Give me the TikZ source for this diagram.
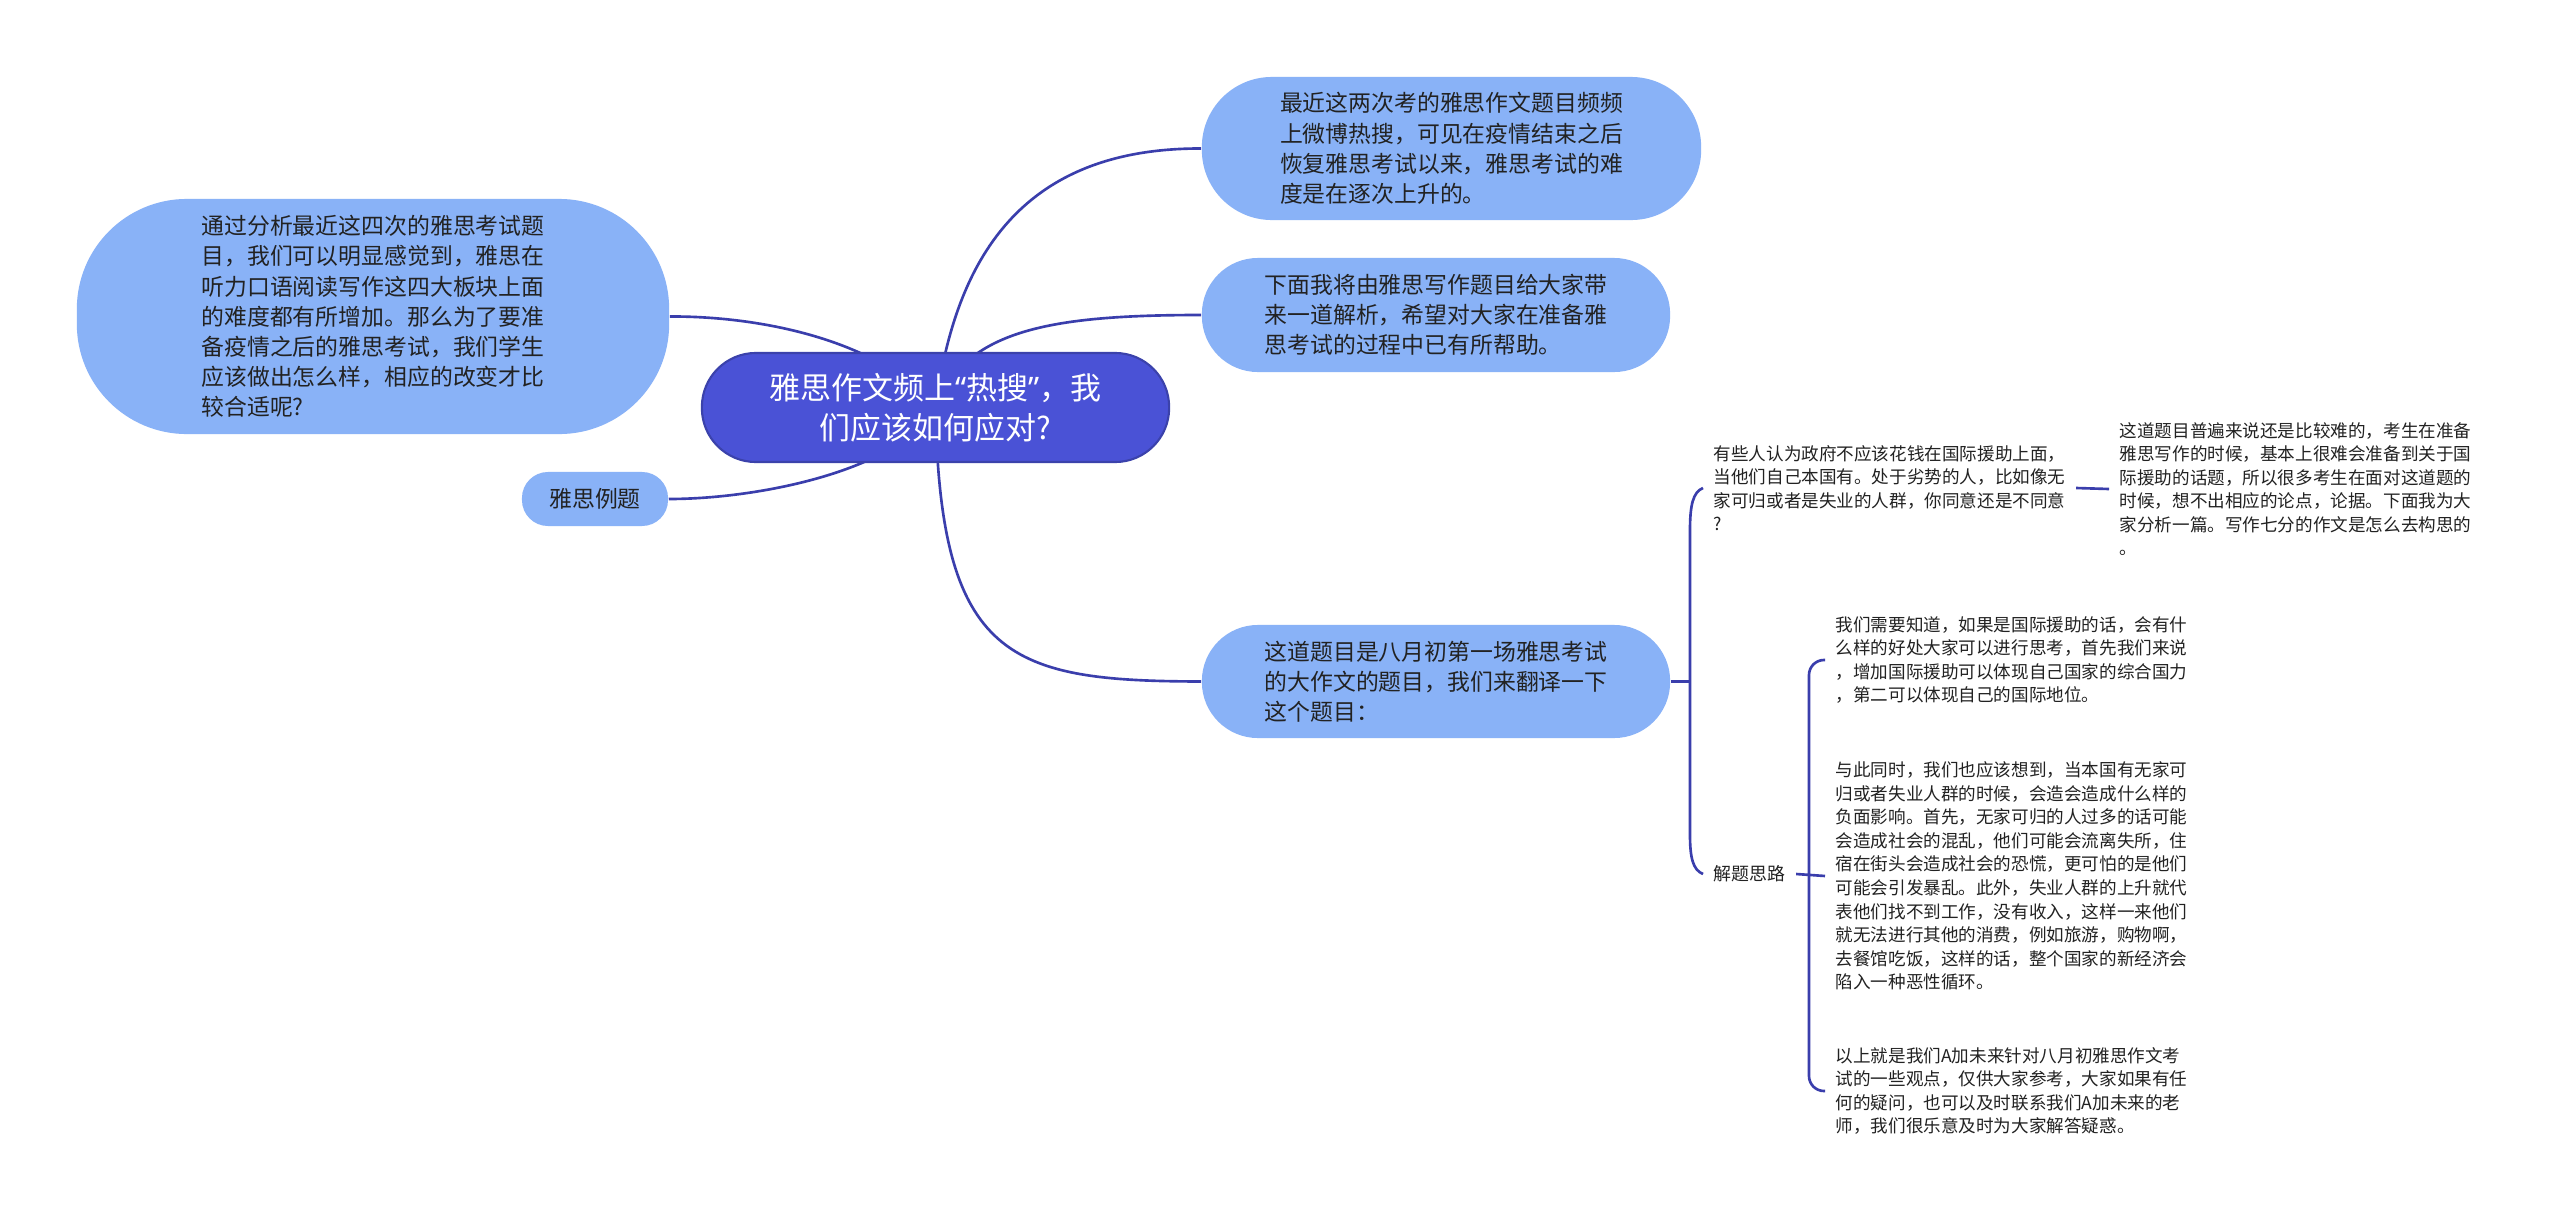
\documentclass[tikz,border=0pt]{standalone}
\usepackage{fontspec}
\setmainfont{Noto Sans CJK SC}
\newfontfamily\quotefont{Noto Sans}
\usetikzlibrary{backgrounds}
\definecolor{darkblue}{RGB}{74,82,214}
\definecolor{lightblue}{RGB}{137,178,247}
\definecolor{linec}{RGB}{58,62,172}
\definecolor{txt}{RGB}{34,34,34}
\begin{document}
\begin{tikzpicture}[x=0.01cm,y=-0.01cm,
  big/.style={fill=lightblue, text=txt, font=\fontsize{6.5pt}{8.6pt}\selectfont, align=left, inner sep=0pt},
  small/.style={text=txt, font=\fontsize{5pt}{6.7pt}\selectfont, align=left, inner ysep=0pt, inner xsep=0.1cm, anchor=west},
  conn/.style={draw=linec, line width=0.75pt},
]
\useasboundingbox (0,0) rectangle (2560,1221);

\node[fill=darkblue, draw=darkblue!80!black, line width=0.6pt, text=white,
  font=\fontsize{8.8pt}{11.4pt}\selectfont, align=center,
  minimum width=4.67cm, minimum height=1.09cm, rounded corners=0.54cm] (root) at (935.5,407.5)
  {雅思作文频上{\quotefont “}热搜{\quotefont ”}，我\\们应该如何应对?};

\node[big, minimum width=5.92cm, minimum height=2.35cm, rounded corners=1.1cm] (left) at (373,316.5)
  {通过分析最近这四次的雅思考试题\\目，我们可以明显感觉到，雅思在\\听力口语阅读写作这四大板块上面\\的难度都有所增加。那么为了要准\\备疫情之后的雅思考试，我们学生\\应该做出怎么样，相应的改变才比\\较合适呢?};

\node[big, minimum width=4.99cm, minimum height=1.43cm, rounded corners=0.7cm] (n1) at (1451.5,148.5)
  {最近这两次考的雅思作文题目频频\\上微博热搜，可见在疫情结束之后\\恢复雅思考试以来，雅思考试的难\\度是在逐次上升的。};

\node[big, minimum width=4.68cm, minimum height=1.14cm, rounded corners=0.56cm] (n2) at (1436,315)
  {下面我将由雅思写作题目给大家带\\来一道解析，希望对大家在准备雅\\思考试的过程中已有所帮助。};

\node[big, minimum width=4.68cm, minimum height=1.13cm, rounded corners=0.56cm] (n3) at (1436,681.5)
  {这道题目是八月初第一场雅思考试\\的大作文的题目，我们来翻译一下\\这个题目：};

\node[big, minimum width=1.46cm, minimum height=0.54cm, rounded corners=0.26cm] (ex) at (595,499)
  {雅思例题};

\node[small] (q) at (1703,488)
  {有些人认为政府不应该花钱在国际援助上面，\\当他们自己本国有。处于劣势的人，比如像无\\家可归或者是失业的人群，你同意还是不同意\\?};

\node[small] (qa) at (2109,489)
  {这道题目普遍来说还是比较难的，考生在准备\\雅思写作的时候，基本上很难会准备到关于国\\际援助的话题，所以很多考生在面对这道题的\\时候，想不出相应的论点，论据。下面我为大\\家分析一篇。写作七分的作文是怎么去构思的\\。};

\node[small, font=\fontsize{5.1pt}{6.7pt}\selectfont] (jt) at (1703,874) {解题思路};

\node[small] (ca) at (1825,660)
  {我们需要知道，如果是国际援助的话，会有什\\么样的好处大家可以进行思考，首先我们来说\\，增加国际援助可以体现自己国家的综合国力\\，第二可以体现自己的国际地位。};

\node[small] (cb) at (1825,876)
  {与此同时，我们也应该想到，当本国有无家可\\归或者失业人群的时候，会造会造成什么样的\\负面影响。首先，无家可归的人过多的话可能\\会造成社会的混乱，他们可能会流离失所，住\\宿在街头会造成社会的恐慌，更可怕的是他们\\可能会引发暴乱。此外，失业人群的上升就代\\表他们找不到工作，没有收入，这样一来他们\\就无法进行其他的消费，例如旅游，购物啊，\\去餐馆吃饭，这样的话，整个国家的新经济会\\陷入一种恶性循环。};

\node[small] (cc) at (1825,1091)
  {以上就是我们A加未来针对八月初雅思作文考\\试的一些观点，仅供大家参考，大家如果有任\\何的疑问，也可以及时联系我们A加未来的老\\师，我们很乐意及时为大家解答疑惑。};

\begin{scope}[on background layer]
\fill[white] (0,0) rectangle (2560,1221);
\draw[conn] (root.center) .. controls (955,260) and (1020,148) .. (n1.west);
\draw[conn] (root.center) .. controls (965,330) and (1050,315) .. (n2.west);
\draw[conn] (root.center) .. controls (940,660) and (1010,681) .. (n3.west);
\draw[conn] (root.center) .. controls (880,340) and (760,316) .. (left.east);
\draw[conn] (root.center) .. controls (900,470) and (760,499) .. (ex.east);
\end{scope}

\coordinate (b1) at (1690,681.5);
\draw[conn] (n3.east) -- (b1);
\draw[conn] (q.west) .. controls (1693,492) and (1690,505) .. (1690,530) -- (1690,835)
  .. controls (1690,858) and (1693,870) .. (jt.west);
\draw[conn] (q.east) -- (qa.west);
\draw[conn] (jt.east) -- (cb.west);
\draw[conn, rounded corners=0.15cm] (ca.west) -| (1809,876) |- (cc.west);
\end{tikzpicture}
\end{document}
